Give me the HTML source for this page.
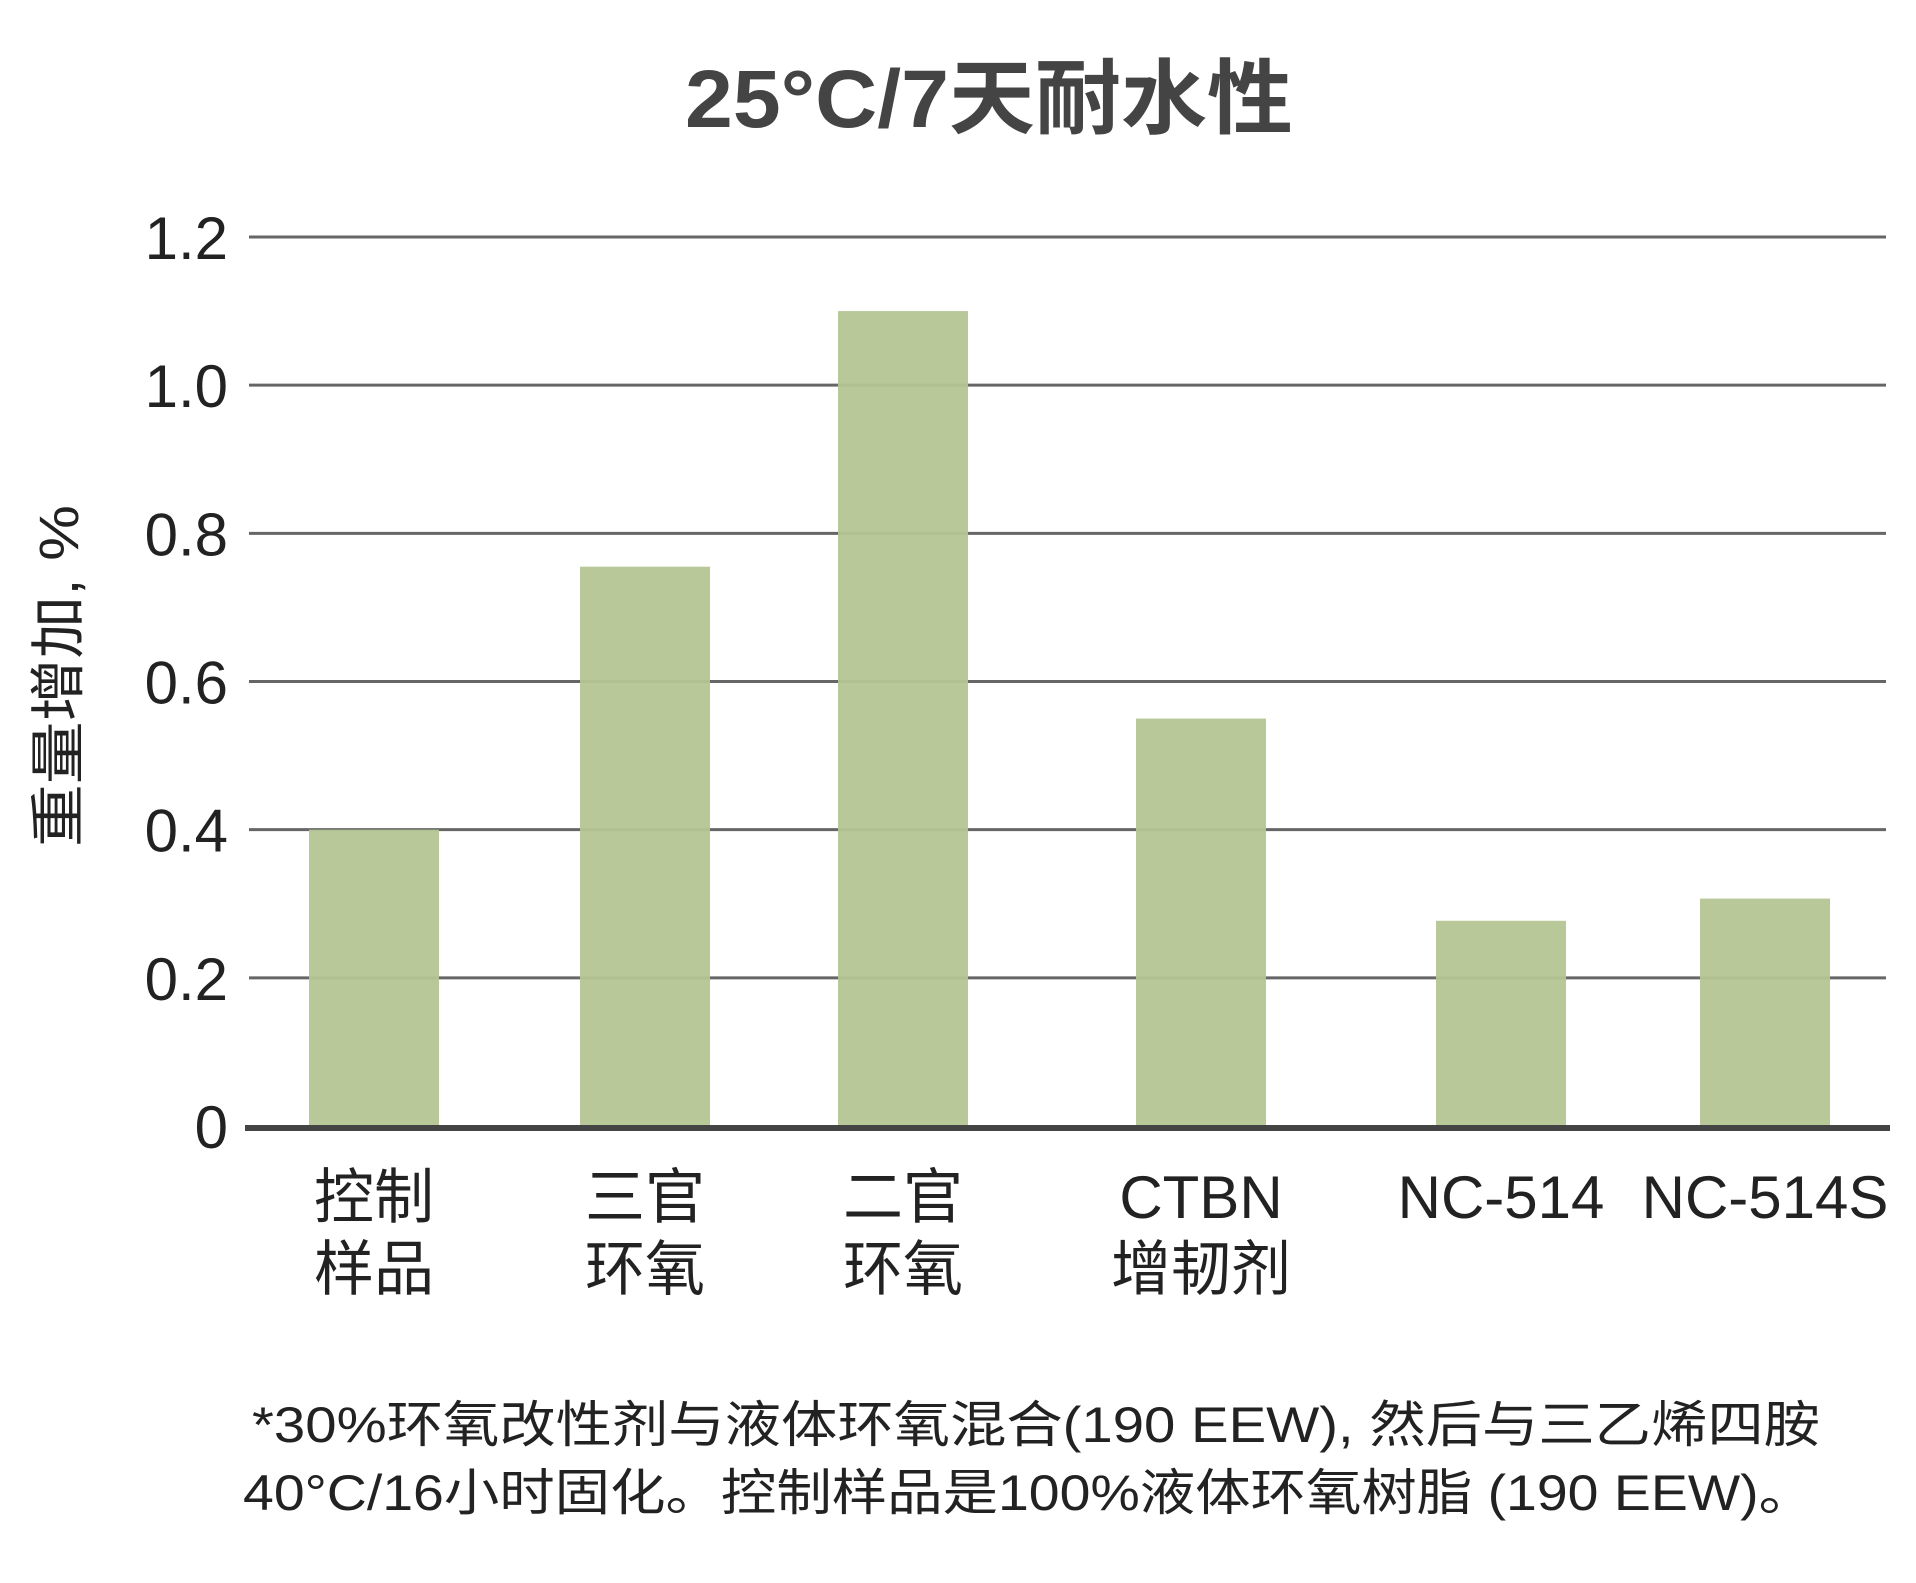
<!DOCTYPE html>
<html><head><meta charset="utf-8"><style>
html,body{margin:0;padding:0;background:#fff;}
svg{display:block;}
text{font-family:"Liberation Sans","Noto Sans CJK SC",sans-serif;}
</style></head><body>
<svg id="chart" width="1916" height="1583" viewBox="0 0 1916 1583" xmlns="http://www.w3.org/2000/svg">
<text x="989" y="127" text-anchor="middle" font-size="82" font-weight="bold" fill="#444" textLength="608" lengthAdjust="spacingAndGlyphs">25°C/7天耐水性</text>
<g id="grid"></g>
<g id="bars"></g>
<g id="yticks"></g>
<g id="xlabels"></g>
<line x1="245" x2="1890" y1="1128" y2="1128" stroke="#444" stroke-width="6"/>
<text transform="translate(78,676) rotate(-90)" text-anchor="middle" font-size="56" fill="#222" textLength="342" lengthAdjust="spacingAndGlyphs">重量增加, %</text>
<text x="252" y="1442" font-size="50" fill="#222" textLength="1568" lengthAdjust="spacingAndGlyphs">*30%环氧改性剂与液体环氧混合(190 EEW), 然后与三乙烯四胺</text>
<text x="243" y="1510" font-size="50" fill="#222" textLength="1571" lengthAdjust="spacingAndGlyphs">40°C/16小时固化。控制样品是100%液体环氧树脂 (190 EEW)。</text>
</svg>
<script>
const categories = [["控制","样品"],["三官","环氧"],["二官","环氧"],["CTBN","增韧剂"],["NC-514"],["NC-514S"]];
const values = [0.40, 0.755, 1.10, 0.55, 0.277, 0.307];
const yTicks = [0, 0.2, 0.4, 0.6, 0.8, 1.0, 1.2];
const yTickLabels = ["0","0.2","0.4","0.6","0.8","1.0","1.2"];
const NS = "http://www.w3.org/2000/svg";
const y0 = 1126, yTop = 237, yMax = 1.2;
function yScale(v){ return y0 - (v / yMax) * (y0 - yTop); }
const barCenters = [374, 645, 903, 1201, 1501, 1765];
function xCenter(i){ return barCenters[i]; }
const barW = 130;
const grid = document.getElementById('grid');
const yt = document.getElementById('yticks');
yTicks.forEach((t, i) => {
  if (t > 0) {
    const l = document.createElementNS(NS, 'line');
    
    
    l.setAttribute('x1', 249); l.setAttribute('x2', 1886);
    l.setAttribute('y1', yScale(t)); l.setAttribute('y2', yScale(t));
    l.setAttribute('stroke', '#666'); l.setAttribute('stroke-width', '3');
    grid.appendChild(l);
  }
  const tx = document.createElementNS(NS, 'text');
  
  
  tx.setAttribute('x', 228); tx.setAttribute('y', yScale(t) + 22);
  tx.setAttribute('text-anchor', 'end'); tx.setAttribute('font-size', '60'); tx.setAttribute('fill', '#222');
  tx.textContent = yTickLabels[i];
  yt.appendChild(tx);
});
const bars = document.getElementById('bars');
const xl = document.getElementById('xlabels');
values.forEach((v, i) => {
  const r = document.createElementNS(NS, 'rect');
  
  
  r.setAttribute('x', xCenter(i) - barW / 2); r.setAttribute('width', barW);
  r.setAttribute('y', yScale(v)); r.setAttribute('height', y0 - yScale(v));
  r.setAttribute('fill', '#b5c593'); r.setAttribute('fill-opacity', '0.95');
  bars.appendChild(r);
  categories[i].forEach((line, j) => {
    const t = document.createElementNS(NS, 'text');
    
    
    t.setAttribute('x', xCenter(i)); t.setAttribute('y', 1218 + j * 72);
    t.setAttribute('text-anchor', 'middle'); t.setAttribute('font-size', '60'); t.setAttribute('fill', '#222');
    t.textContent = line;
    xl.appendChild(t);
  });
});
</script>
</body></html>
